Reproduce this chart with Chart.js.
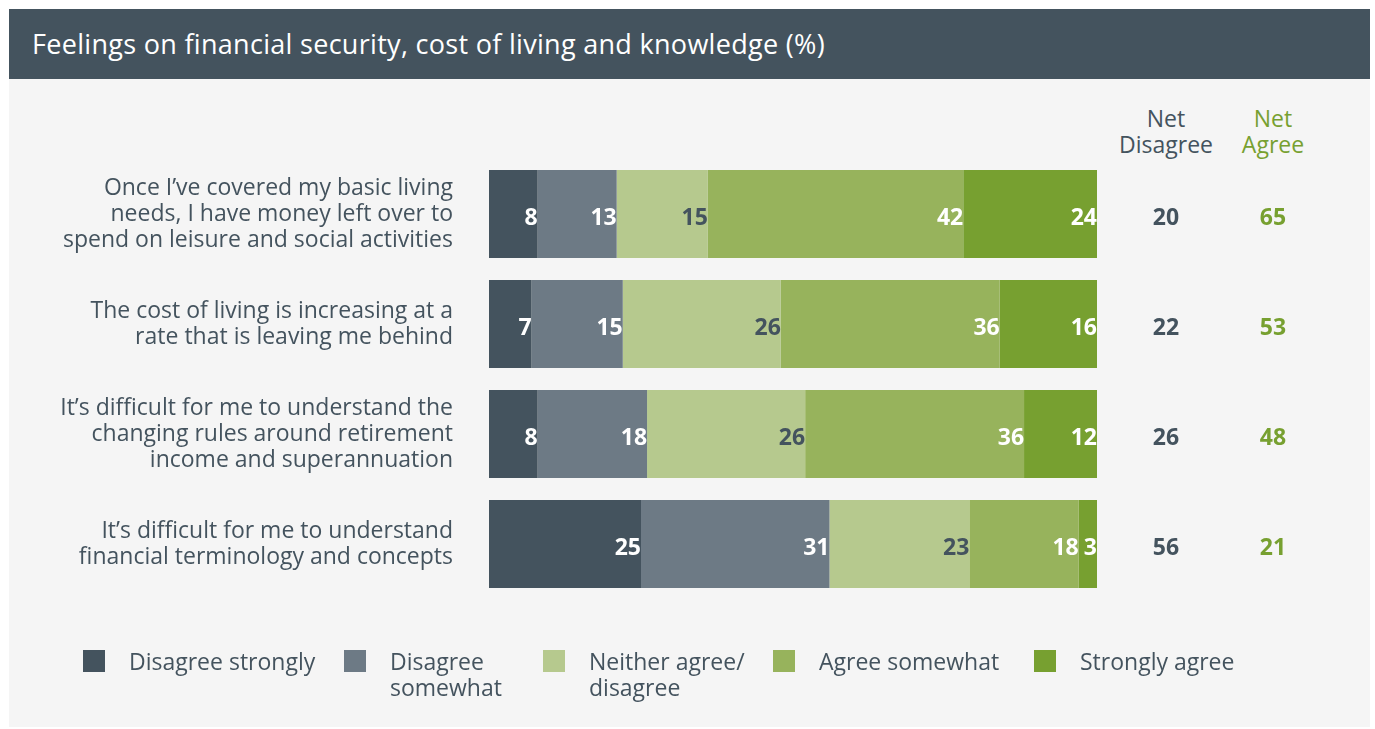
<!DOCTYPE html>
<html>
<head>
<meta charset="utf-8">
<script src="https://cdn.jsdelivr.net/npm/chart.js@4.4.1/dist/chart.umd.min.js"></script>
<style>
  html, body { margin: 0; padding: 0; background: #fff; }
  body { width: 1375px; height: 729px; position: relative; overflow: hidden; font-family: 'Open Sans', sans-serif; color: #44535e; }
  .panel { position: absolute; left: 9px; top: 79px; width: 1361px; height: 648px; background: #f5f5f5; }
  .title { position: absolute; left: 9px; top: 9px; width: 1361px; height: 70px; background: #44535e; color: #fff;
           font-size: 27px; letter-spacing: 0.3px; line-height: 70px; padding-left: 23px; box-sizing: border-box; }
  #wrap { position: absolute; left: 0; top: 0; width: 1375px; height: 729px; }
  .net { position: absolute; top: 105px; width: 140px; text-align: center; font-size: 23px; line-height: 26px; }
  .leg { position: absolute; top: 650px; }
  .leg i { position: absolute; left: 0; top: 0; width: 22px; height: 22px; }
  .leg span { position: absolute; left: 46px; top: -2px; white-space: nowrap; font-size: 23px; line-height: 26px; }
</style>
</head>
<body>
<div class="panel"></div>
<div class="title">Feelings on financial security, cost of living and knowledge (%)</div>
<div class="net" style="left:1096px">Net<br>Disagree</div>
<div class="net" style="left:1203px;color:#77a030">Net<br>Agree</div>
<div id="wrap"><canvas id="chart"></canvas></div>
<div id="legend"></div>
<script>
// statements (y axis), one line per array entry
const statements = [
  ['Once I\u2019ve covered my basic living', 'needs, I have money left over to', 'spend on leisure and social activities'],
  ['The cost of living is increasing at a', 'rate that is leaving me behind'],
  ['It\u2019s difficult for me to understand the', 'changing rules around retirement', 'income and superannuation'],
  ['It\u2019s difficult for me to understand', 'financial terminology and concepts']
];

const seriesNames = ['Disagree strongly', 'Disagree somewhat', 'Neither agree/ disagree', 'Agree somewhat', 'Strongly agree'];

const disagreeStrongly = [8, 7, 8, 25];
const disagreeSomewhat = [13, 15, 18, 31];
const neither = [15, 26, 26, 23];
const agreeSomewhat = [42, 36, 36, 18];
const stronglyAgree = [24, 16, 12, 3];

const netDisagree = [20, 22, 26, 56];
const netAgree = [65, 53, 48, 21];

const colors = ['#44535e', '#6d7a85', '#b6c98e', '#97b35c', '#77a030'];
const dark = '#44535e';
const green = '#77a030';

const values = [disagreeStrongly, disagreeSomewhat, neither, agreeSomewhat, stronglyAgree];

// numbers at the right end of every segment + the two net columns
const barLabels = {
  id: 'barLabels',
  afterDatasetsDraw(chart) {
    const { ctx, chartArea } = chart;
    ctx.save();
    ctx.font = "bold 23px 'Open Sans'";
    ctx.textBaseline = 'middle';
    ctx.textAlign = 'right';
    chart.data.datasets.forEach((ds, di) => {
      chart.getDatasetMeta(di).data.forEach((bar, i) => {
        ctx.fillStyle = di === 2 ? dark : '#fff';
        ctx.fillText(ds.data[i], Math.min(bar.x, chartArea.right), bar.y + 4);
      });
    });
    ctx.textAlign = 'center';
    chart.getDatasetMeta(0).data.forEach((bar, i) => {
      ctx.fillStyle = dark;
      ctx.fillText(netDisagree[i], chartArea.right + 69, bar.y + 4);
      ctx.fillStyle = green;
      ctx.fillText(netAgree[i], chartArea.right + 176, bar.y + 4);
    });
    ctx.restore();
  }
};

new Chart(document.getElementById('chart'), {
  type: 'bar',
  data: {
    labels: statements,
    datasets: seriesNames.map((name, i) => ({
      label: name,
      data: values[i],
      backgroundColor: colors[i],
      borderWidth: 0,
      categoryPercentage: 1,
      barPercentage: 0.8,
      clip: 0
    }))
  },
  options: {
    indexAxis: 'y',
    responsive: true,
    maintainAspectRatio: false,
    animation: false,
    layout: { padding: { left: 0, right: 278, top: 159, bottom: 130 } },
    plugins: {
      legend: { display: false },
      tooltip: { enabled: false }
    },
    scales: {
      x: { stacked: true, min: 0, max: 100, display: false },
      y: {
        stacked: true,
        grid: { display: false },
        border: { display: false },
        ticks: {
          padding: 28,
          color: dark,
          font: { size: 23, family: "'Open Sans'", lineHeight: 1.13 }
        },
        afterFit: s => { s.width = 489; }
      }
    }
  },
  plugins: [barLabels]
});

// legend
const legendX = [83, 344, 543, 773, 1034];
const legendText = ['Disagree strongly', 'Disagree<br>somewhat', 'Neither agree/<br>disagree', 'Agree somewhat', 'Strongly agree'];
document.getElementById('legend').innerHTML = seriesNames.map((n, i) =>
  `<div class="leg" style="left:${legendX[i]}px"><i style="background:${colors[i]}"></i><span>${legendText[i]}</span></div>`
).join('');
</script>
</body>
</html>
